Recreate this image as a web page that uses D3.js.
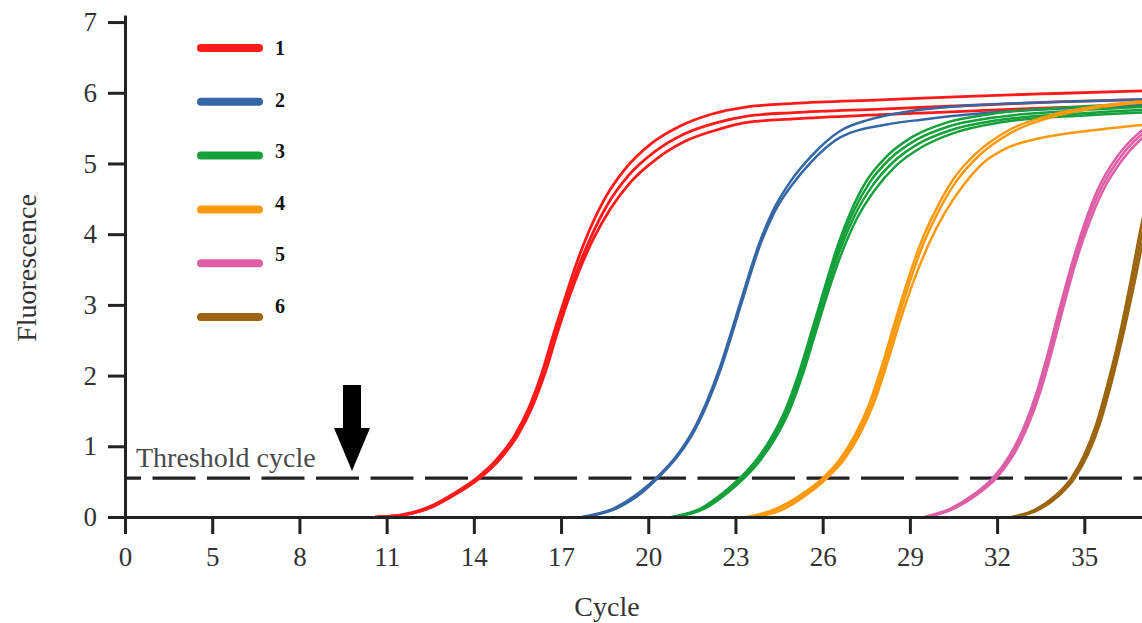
<!DOCTYPE html>
<html>
<head>
<meta charset="utf-8">
<script src="https://cdn.jsdelivr.net/npm/d3@7"></script>
<style>
  html, body { margin: 0; padding: 0; background: #fff; }
  svg { display: block; font-family: "Liberation Serif", "Times New Roman", serif; }
</style>
</head>
<body>
<div class="canvas"></div>
<script>
// tick labels on the cycle axis (first label sits at cycle 2 in the original figure)
const xTickCycles = [2, 5, 8, 11, 14, 17, 20, 23, 26, 29, 32, 35]
const xTickLabels = ['0', '5', '8', '11', '14', '17', '20', '23', '26', '29', '32', '35']
const yTicks = [0, 1, 2, 3, 4, 5, 6, 7]

const threshold = 0.55

const seriesNames = ['1', '2', '3', '4', '5', '6']
const seriesColors = ['#ff1a1a', '#3566a5', '#16a03c', '#fb9a0e', '#de5fa5', '#9c650f']

// replicate curves, [cycle, fluorescence]
const red1 = [[10.6,0],[11.5,0.03],[12.5,0.15],[13.3,0.33],[14.1,0.55],[14.8,0.82],[15.4,1.15],[15.9,1.55],[16.35,2.05],[16.75,2.6],[17.1,3.05],[17.5,3.55],[17.95,4.03],[18.5,4.5],[19.2,4.92],[20.1,5.28],[21.1,5.53],[22.2,5.7],[23.4,5.8],[25,5.85],[28,5.9],[31,5.95],[34,5.99],[39,6.05]]
const red2 = [[10.7,0],[11.6,0.03],[12.6,0.15],[13.4,0.33],[14.18,0.55],[14.88,0.82],[15.48,1.15],[15.98,1.55],[16.43,2.05],[16.83,2.6],[17.18,3.05],[17.58,3.52],[18.05,3.98],[18.6,4.42],[19.3,4.82],[20.2,5.16],[21.2,5.41],[22.3,5.57],[23.4,5.67],[25,5.72],[28,5.77],[31,5.82],[34,5.87],[39,5.92]]
const red3 = [[10.7,0],[11.6,0.03],[12.6,0.15],[13.4,0.33],[14.2,0.55],[14.9,0.82],[15.5,1.15],[16.0,1.55],[16.46,2.05],[16.87,2.6],[17.23,3.05],[17.64,3.5],[18.12,3.94],[18.7,4.36],[19.4,4.74],[20.3,5.07],[21.3,5.32],[22.4,5.48],[23.4,5.58],[25,5.63],[28,5.69],[31,5.74],[34,5.79],[39,5.85]]

const blue1 = [[17.7,0],[18.8,0.12],[19.7,0.35],[20.35,0.58],[21.0,0.88],[21.55,1.23],[22.0,1.62],[22.45,2.1],[22.9,2.68],[23.35,3.28],[23.8,3.85],[24.3,4.34],[24.9,4.75],[25.6,5.1],[26.6,5.46],[27.6,5.62],[29,5.74],[31,5.82],[34,5.87],[39,5.93]]
const blue2 = [[17.8,0],[18.9,0.12],[19.8,0.35],[20.4,0.58],[21.05,0.88],[21.6,1.23],[22.05,1.62],[22.5,2.1],[22.95,2.68],[23.4,3.28],[23.85,3.85],[24.35,4.32],[24.95,4.7],[25.6,5.02],[26.6,5.37],[28.2,5.55],[29.4,5.62],[31.5,5.71],[35,5.79],[39,5.85]]

const green1 = [[20.8,0],[21.8,0.12],[22.6,0.35],[23.2,0.57],[23.7,0.8],[24.2,1.1],[24.7,1.5],[25.15,2.0],[25.6,2.6],[26.05,3.22],[26.5,3.82],[27.0,4.35],[27.55,4.78],[28.2,5.1],[29.1,5.38],[30.2,5.57],[31.8,5.7],[34.7,5.8],[39,5.88]]
const green2 = [[20.85,0],[21.85,0.12],[22.65,0.35],[23.25,0.57],[23.75,0.8],[24.25,1.1],[24.75,1.5],[25.2,2.0],[25.65,2.6],[26.1,3.22],[26.55,3.8],[27.06,4.32],[27.63,4.74],[28.3,5.06],[29.2,5.33],[30.3,5.52],[31.9,5.65],[34.8,5.75],[39,5.83]]
const green3 = [[20.9,0],[21.9,0.12],[22.7,0.35],[23.3,0.57],[23.8,0.8],[24.3,1.1],[24.8,1.5],[25.25,2.0],[25.7,2.6],[26.15,3.22],[26.6,3.78],[27.12,4.28],[27.72,4.69],[28.4,5.01],[29.3,5.28],[30.4,5.47],[32,5.61],[35,5.71],[39,5.79]]
const green4 = [[20.95,0],[21.95,0.12],[22.75,0.35],[23.35,0.57],[23.85,0.8],[24.35,1.1],[24.85,1.5],[25.3,2.0],[25.75,2.6],[26.2,3.2],[26.67,3.75],[27.2,4.24],[27.82,4.64],[28.5,4.96],[29.4,5.23],[30.5,5.43],[32.1,5.58],[35,5.68],[39,5.75]]

const orange1 = [[23.4,0],[24.3,0.1],[25.2,0.3],[26.0,0.55],[26.6,0.82],[27.1,1.15],[27.6,1.6],[28.05,2.15],[28.5,2.78],[28.95,3.38],[29.4,3.9],[29.9,4.35],[30.5,4.78],[31.3,5.15],[32.4,5.47],[34,5.7],[36,5.84],[39,5.93]]
const orange2 = [[23.5,0],[24.4,0.1],[25.3,0.3],[26.08,0.55],[26.68,0.82],[27.18,1.15],[27.68,1.6],[28.13,2.15],[28.58,2.78],[29.03,3.37],[29.48,3.88],[29.98,4.32],[30.6,4.75],[31.4,5.12],[32.5,5.44],[34.1,5.68],[36,5.82],[39,5.91]]
const orange3 = [[23.7,0],[24.6,0.1],[25.4,0.3],[26.15,0.55],[26.75,0.82],[27.25,1.15],[27.75,1.6],[28.2,2.15],[28.67,2.78],[29.15,3.36],[29.65,3.86],[30.2,4.3],[30.8,4.67],[31.5,5.0],[32.4,5.23],[33.5,5.36],[35.3,5.47],[37.1,5.55],[39,5.62]]

const pink1 = [[29.5,0],[30.4,0.12],[31.2,0.32],[31.85,0.55],[32.4,0.85],[32.9,1.25],[33.35,1.75],[33.75,2.32],[34.15,2.95],[34.55,3.55],[34.95,4.08],[35.45,4.62],[36.1,5.08],[36.9,5.44],[37.8,5.66],[39,5.82]]
const pink2 = [[29.56,0],[30.46,0.12],[31.26,0.32],[31.91,0.55],[32.46,0.85],[32.96,1.25],[33.41,1.75],[33.81,2.32],[34.21,2.95],[34.61,3.55],[35.01,4.07],[35.52,4.6],[36.17,5.05],[36.97,5.41],[37.86,5.63],[39,5.79]]
const pink3 = [[29.62,0],[30.52,0.12],[31.32,0.32],[31.97,0.55],[32.52,0.85],[33.02,1.25],[33.47,1.75],[33.87,2.32],[34.27,2.95],[34.67,3.55],[35.08,4.06],[35.6,4.58],[36.25,5.02],[37.05,5.38],[37.94,5.6],[39,5.76]]

const brown1 = [[32.5,0],[33.3,0.1],[34.0,0.3],[34.55,0.55],[35.0,0.88],[35.4,1.3],[35.8,1.88],[36.2,2.55],[36.6,3.35],[37.0,4.2],[37.35,4.75],[37.8,5.2],[38.4,5.5],[39,5.68]]
const brown2 = [[32.56,0],[33.36,0.1],[34.06,0.3],[34.61,0.55],[35.06,0.88],[35.46,1.3],[35.86,1.88],[36.26,2.55],[36.66,3.33],[37.06,4.15],[37.42,4.7],[37.88,5.15],[38.45,5.46],[39,5.64]]
const brown3 = [[32.62,0],[33.42,0.1],[34.12,0.3],[34.67,0.55],[35.12,0.88],[35.52,1.3],[35.92,1.88],[36.32,2.55],[36.72,3.3],[37.12,4.1],[37.5,4.65],[37.95,5.1],[38.5,5.42],[39,5.6]]

const replicates = [
    [red1, red2, red3],
    [blue1, blue2],
    [green1, green2, green3, green4],
    [orange1, orange2, orange3],
    [pink1, pink2, pink3],
    [brown1, brown2, brown3]
]

const width = 1142
const height = 623

const svg = d3.select('.canvas')
    .append('svg')
    .attr('width', width)
    .attr('height', height)

const xScale = d3.scaleLinear().domain([2, 38]).range([125, 125 + 36 * 29.07])
const yScale = d3.scaleLinear().domain([0, 7.1]).range([517, 15])

// threshold line
svg.append('line')
    .attr('x1', xScale(2)).attr('x2', width)
    .attr('y1', yScale(threshold)).attr('y2', yScale(threshold))
    .attr('stroke', '#222')
    .attr('stroke-width', 3.2)
    .attr('stroke-dasharray', '43 11.5')
    .attr('stroke-dashoffset', 27)

svg.append('text')
    .attr('x', 136)
    .attr('y', yScale(threshold) - 11)
    .attr('font-size', 28)
    .attr('fill', '#4a4a4a')
    .text('Threshold cycle')

// curves
const lineGenerator = d3.line()
    .x(d => xScale(d[0]))
    .y(d => yScale(d[1]))
    .curve(d3.curveMonotoneX)

replicates.forEach((reps, i) => {
    svg.append('g')
        .selectAll('path')
        .data(reps)
        .enter()
        .append('path')
            .attr('fill', 'none')
            .attr('stroke', seriesColors[i])
            .attr('stroke-width', i === 0 ? 2.8 : 2.5)
            .attr('d', lineGenerator)
})

// axes
const xAxis = d3.axisBottom(xScale)
    .tickValues(xTickCycles)
    .tickFormat((d, i) => xTickLabels[i])
    .tickSize(17)
    .tickSizeOuter(0)
    .tickPadding(13)

const yAxis = d3.axisLeft(yScale)
    .tickValues(yTicks)
    .tickSize(17)
    .tickSizeOuter(0)
    .tickPadding(11)

const xAxisGroup = svg.append('g')
    .attr('transform', `translate(0, ${yScale(0)})`)
    .call(xAxis)

const yAxisGroup = svg.append('g')
    .attr('transform', `translate(${xScale(2)}, 0)`)
    .call(yAxis)

;[xAxisGroup, yAxisGroup].forEach(g => {
    g.select('.domain').attr('stroke', '#222').attr('stroke-width', 3)
    g.selectAll('.tick line').attr('stroke', '#222').attr('stroke-width', 3)
    g.selectAll('.tick text')
        .attr('font-family', '"Liberation Serif", serif')
        .attr('font-size', 27)
        .attr('fill', '#333')
})

// axis titles
svg.append('text')
    .attr('x', 607)
    .attr('y', 616)
    .attr('text-anchor', 'middle')
    .attr('font-size', 28)
    .attr('fill', '#333')
    .text('Cycle')

svg.append('text')
    .attr('transform', 'translate(36, 268) rotate(-90)')
    .attr('text-anchor', 'middle')
    .attr('font-size', 28)
    .attr('fill', '#333')
    .text('Fluorescence')

// arrow pointing at the threshold
const arrow = d3.path()
arrow.moveTo(343, 385)
arrow.lineTo(361, 385)
arrow.lineTo(361, 428)
arrow.lineTo(370, 428)
arrow.lineTo(352, 471)
arrow.lineTo(334, 428)
arrow.lineTo(343, 428)
arrow.closePath()
svg.append('path')
    .attr('d', arrow.toString())
    .attr('fill', '#000')

// legend
const legend = svg.append('g')
    .selectAll('g')
    .data(seriesNames)
    .enter()
    .append('g')
        .attr('transform', (d, i) => `translate(201, ${48 + i * 53.8})`)

legend.append('line')
    .attr('x1', 0).attr('x2', 58)
    .attr('stroke', (d, i) => seriesColors[i])
    .attr('stroke-width', 8)
    .attr('stroke-linecap', 'round')

legend.append('text')
    .attr('x', 74)
    .attr('y', (d, i) => 7 - i * 2.2)
    .attr('font-size', 20)
    .attr('font-weight', 'bold')
    .attr('fill', '#111')
    .text(d => d)
</script>
</body>
</html>
